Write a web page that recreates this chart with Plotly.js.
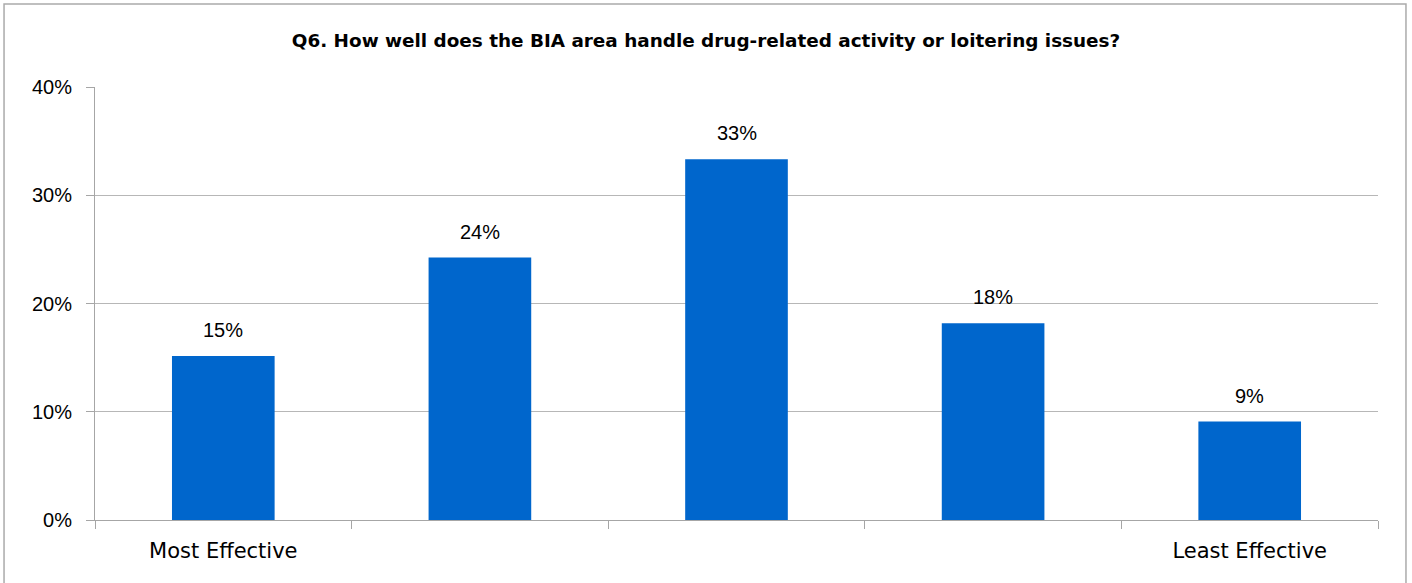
<!DOCTYPE html>
<html>
<head>
<meta charset="utf-8">
<script src="https://cdn.plot.ly/plotly-3.0.1.min.js"></script>
<style>html,body{margin:0;padding:0;background:#fff;}#chart{width:1412px;height:583px;}</style>
</head>
<body>
<div id="chart"></div>
<script>
const categories = ["Most Effective", " ", "  ", "   ", "Least Effective"];
const values = [0.1515, 0.2424, 0.3333, 0.1818, 0.0909];
const valueLabels = ["15%", "24%", "33%", "18%", "9%"];
const yTickVals = [0, 0.1, 0.2, 0.3, 0.4];
const yTickText = ["0%", "10%", "20%", "30%", "40%"];
const titleText = "Q6. How well does the BIA area handle drug-related activity or loitering issues?";

const trace = {
  type: "bar",
  x: categories,
  y: values,
  marker: {color: "#0066CC"},
  width: 0.4,
  hoverinfo: "none"
};

const annotations = categories.map((c, i) => ({
  x: c, y: values[i], xref: "x", yref: "y",
  text: valueLabels[i], showarrow: false,
  yanchor: "bottom", yshift: 13,
  font: {family: "Liberation Sans, Arial, sans-serif", size: 20, color: "#000"}
}));

const layout = {
  width: 1412, height: 583,
  margin: {l: 95, r: 34, t: 87, b: 63},
  paper_bgcolor: "#fff", plot_bgcolor: "#fff",
  showlegend: false,
  title: {text: "<b>" + titleText + "</b>", x: 0.5, xref: "container", xanchor: "center", y: 0.93, yanchor: "middle",
    font: {family: "DejaVu Sans, sans-serif", size: 18.4, color: "#000"}},
  xaxis: {
    type: "category",
    tickson: "boundaries",
    ticks: "outside", ticklen: 8, tickcolor: "#A6A6A6", tickwidth: 1,
    showline: true, linecolor: "#A6A6A6", linewidth: 1,
    showgrid: false, zeroline: false,
    ticklabelstandoff: 12,
    tickfont: {family: "DejaVu Sans, sans-serif", size: 21, color: "#000"}
  },
  yaxis: {
    range: [0, 0.4], tickvals: yTickVals, ticktext: yTickText,
    ticks: "outside", ticklen: 8, tickcolor: "#A6A6A6",
    showline: true, linecolor: "#A6A6A6",
    showgrid: true, gridcolor: "#B7B7B7", gridwidth: 1, zeroline: false,
    ticklabelstandoff: 10,
    tickfont: {family: "Liberation Sans, Arial, sans-serif", size: 20, color: "#000"}
  },
  annotations: annotations,
  shapes: [{
    type: "rect", xref: "paper", yref: "paper",
    x0: -0.0709, x1: 1.0218, y0: -0.2, y1: 1.1917,
    line: {color: "#ABABAB", width: 1.5}, fillcolor: "rgba(0,0,0,0)", layer: "below"
  }]
};

Plotly.newPlot("chart", [trace], layout, {displayModeBar: false, staticPlot: true});
</script>
</body>
</html>
